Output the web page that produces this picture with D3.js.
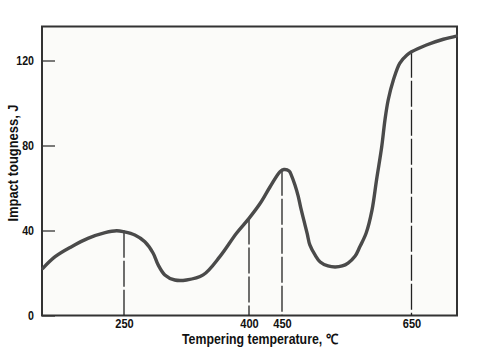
<!DOCTYPE html>
<html>
<head>
<meta charset="utf-8">
<script src="https://cdn.jsdelivr.net/npm/d3@7"></script>
<style>
  html, body { margin: 0; padding: 0; background: #ffffff; }
  svg { display: block; }
  text { font-family: "Liberation Sans", Arial, sans-serif; font-weight: bold; fill: #111; }
</style>
</head>
<body>
<svg id="chart" width="492" height="347"></svg>
<script>
// ---- data ----
const temperature = [151, 166, 186, 206, 227, 241, 250, 263, 275, 285, 291, 299, 311, 325, 345, 365, 385, 400, 417, 432, 447, 453, 461, 465, 470, 475, 479, 484, 489, 493, 501, 509, 521, 532, 543, 552, 563, 570, 580, 589, 596, 604, 609, 614, 622, 632, 643, 650, 673, 699, 719];
const toughness   = [22.2, 27.7, 32.4, 36.3, 39.0, 39.9, 39.4, 37.9, 34.7, 29.3, 23.8, 19.1, 16.7, 16.7, 19.1, 27.7, 38.7, 45.7, 52.8, 60.6, 67.7, 68.7, 68.0, 65.6, 61.4, 56.2, 50.6, 44.5, 38.4, 33.2, 28.5, 25.2, 23.3, 22.8, 23.3, 24.7, 28.0, 32.2, 38.8, 49.6, 63.8, 79.4, 92.0, 101.4, 110.8, 118.8, 122.6, 124.1, 127.3, 130.0, 131.5];
const xTickLabels = [250, 400, 450, 650];
const yTickLabels = [0, 40, 80, 120];
const dropTemps  = [250, 400, 450, 650];
const dropValues = [39.4, 45.7, 68.6, 124.1];
const xAxisTitle = "Tempering temperature, \u2103";
const yAxisTitle = "Impact tougness, J";

// ---- scales (the original x axis is not uniform: piecewise linear) ----
const x = d3.scaleLinear()
  .domain([150, 250, 400, 450, 650, 720])
  .range([42, 124, 249, 282, 411.5, 457]);
const y = d3.scaleLinear().domain([0, 136]).range([315.5, 26.5]);

const svg = d3.select("#chart");

// condense text horizontally (the original uses a narrow bold face)
function condense(sel, factor) {
  sel.each(function () {
    const w = this.getComputedTextLength();
    d3.select(this).attr("textLength", w * factor).attr("lengthAdjust", "spacingAndGlyphs");
  });
}

// plot frame
svg.append("rect")
  .attr("x", x(150)).attr("y", y(136))
  .attr("width", x(720) - x(150)).attr("height", y(0) - y(136))
  .attr("fill", "#fbfbf9")
  .attr("stroke", "#333").attr("stroke-width", 2);

// drop lines
svg.append("g").selectAll("line").data(dropTemps).join("line")
  .attr("x1", d => x(d)).attr("x2", d => x(d))
  .attr("y1", (d, i) => y(dropValues[i])).attr("y2", y(0))
  .attr("stroke", "#222").attr("stroke-width", 1.3)
  .attr("stroke-dasharray", "26,3");

// curve
const pts = temperature.map((t, i) => [t, toughness[i]]);
svg.append("path")
  .datum(pts)
  .attr("d", d3.line().x(d => x(d[0])).y(d => y(d[1])).curve(d3.curveCatmullRom.alpha(0.5)))
  .attr("fill", "none")
  .attr("stroke", "#4a4a4a").attr("stroke-width", 3.4)
  .attr("stroke-linecap", "round").attr("stroke-linejoin", "round");

// y axis
const yAxis = svg.append("g")
  .attr("transform", `translate(${x(150)},0)`)
  .call(d3.axisLeft(y).tickValues(yTickLabels).tickSizeInner(-13).tickSizeOuter(0).tickPadding(8).tickFormat(d3.format("d")));
yAxis.select(".domain").remove();
yAxis.selectAll("line").attr("stroke", "#333").attr("stroke-width", 1.3);
yAxis.selectAll("text").attr("font-size", 12.5).attr("fill", "#111").call(condense, 0.85);

// x axis
const xAxis = svg.append("g")
  .attr("transform", `translate(0,${y(0)})`)
  .call(d3.axisBottom(x).tickValues(xTickLabels).tickSize(0).tickPadding(4).tickFormat(d3.format("d")));
xAxis.select(".domain").remove();
xAxis.selectAll("text").attr("font-size", 12).attr("fill", "#111").call(condense, 0.92);

// axis titles
svg.append("text")
  .attr("x", 260).attr("y", 344)
  .attr("text-anchor", "middle")
  .attr("font-size", 14)
  .attr("textLength", 156).attr("lengthAdjust", "spacingAndGlyphs")
  .text(xAxisTitle);

svg.append("text")
  .attr("transform", "translate(18,163) rotate(-90)")
  .attr("text-anchor", "middle")
  .attr("font-size", 14.5)
  .attr("textLength", 117).attr("lengthAdjust", "spacingAndGlyphs")
  .text(yAxisTitle);
</script>
</body>
</html>
